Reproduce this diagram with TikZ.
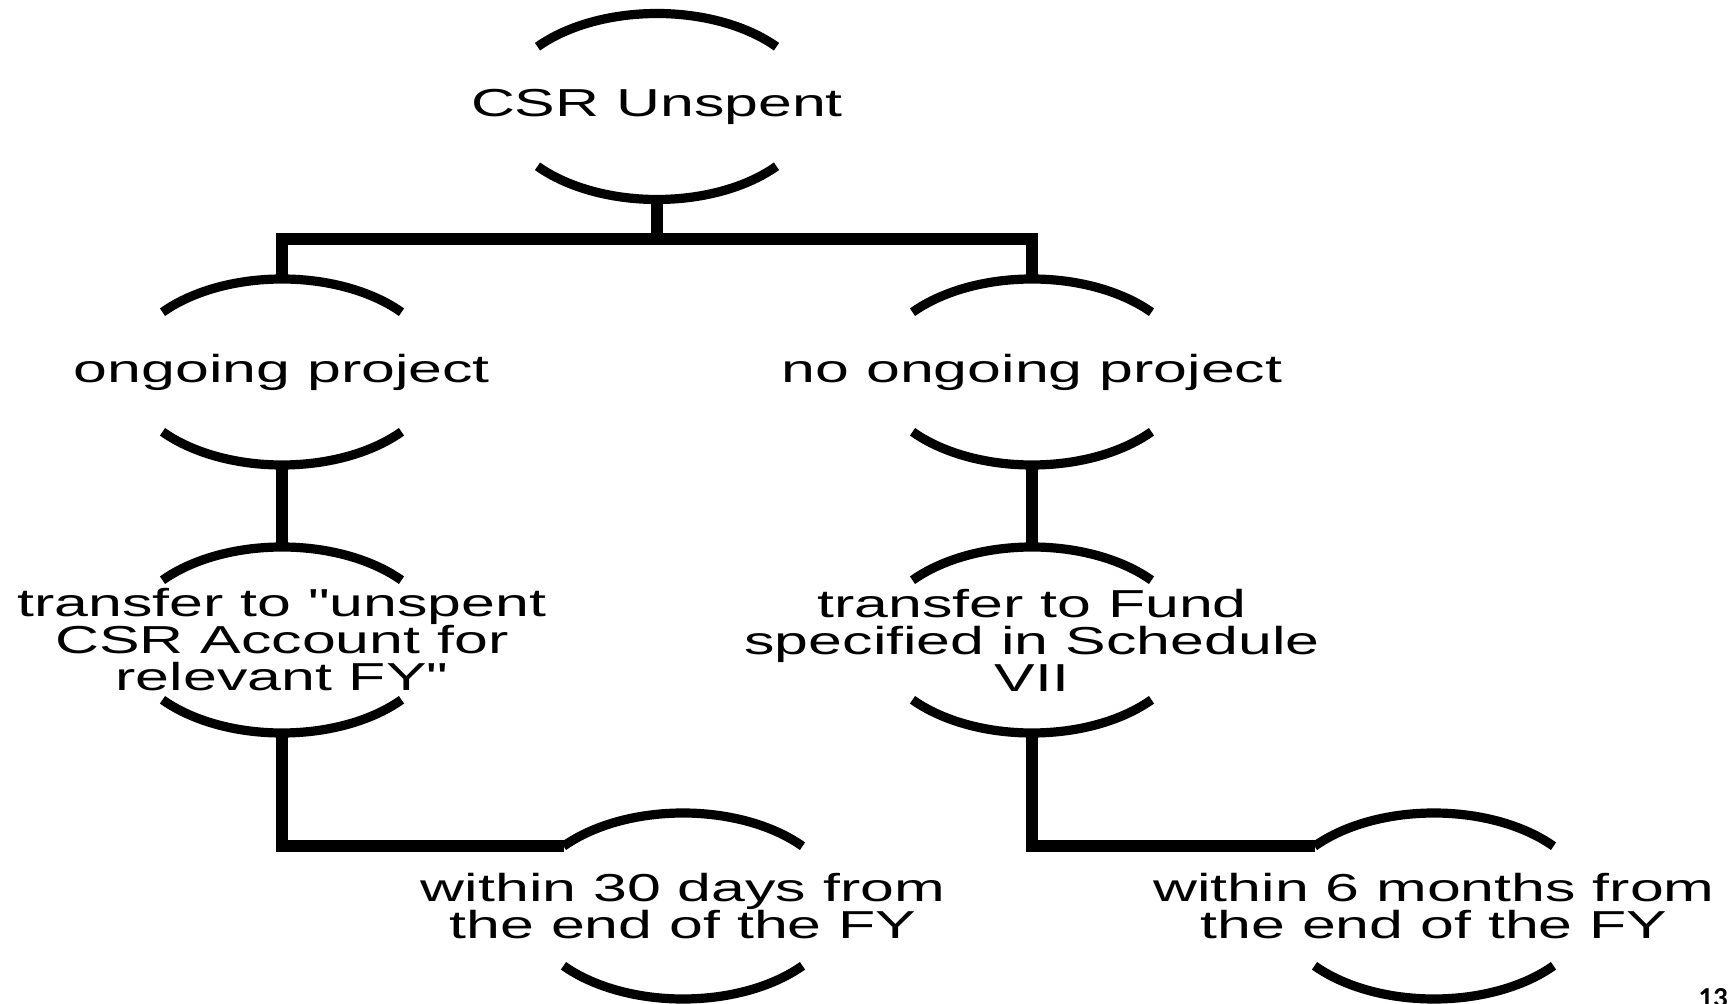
\documentclass[tikz,border=0pt]{standalone}
\usepackage{fontspec}
\usetikzlibrary{shapes.geometric,calc}
\newfontfamily\widesans[FakeStretch=1.56]{Liberation Sans}
\newfontfamily\pgnumfont{Carlito}
\tikzset{
  ring/.style={ellipse, minimum width=156pt, minimum height=93pt, inner sep=0pt, outer sep=0pt},
  txt/.style={font=\widesans\fontsize{19.5pt}{18.5pt}\selectfont, align=center, inner sep=0pt},
  arcline/.style={line width=4.6pt, line cap=butt},
  conn/.style={line width=6pt, line join=miter},
}
\newcommand\ringnode[4]{%
  \node[ring] (#1) at (#2,#3) {};
  \node[txt] (#1-t) at (#1.center) {#4};
  \draw[arcline] ($(#1.center)+(40:78pt and 46.5pt)$) arc[start angle=40, end angle=140, x radius=78pt, y radius=46.5pt];
  \draw[arcline] ($(#1.center)+(220:78pt and 46.5pt)$) arc[start angle=220, end angle=320, x radius=78pt, y radius=46.5pt];
}
\begin{document}
\begin{tikzpicture}[x=0.5pt, y=0.5pt]
  \useasboundingbox (0,0) rectangle (1729,-1004);
  \ringnode{top}{657}{-106.5}{CSR Unspent}
  \ringnode{m1}{282}{-372}{ongoing project}
  \ringnode{m2}{1032}{-372}{no ongoing project}
  \ringnode{t1}{282}{-640}{transfer to "unspent\\CSR Account for\\relevant FY"}
  \ringnode{t2}{1032}{-640}{transfer to Fund\\specified in Schedule\\VII}
  \ringnode{b1}{683}{-906}{within 30 days from\\the end of the FY}
  \ringnode{b2}{1434}{-906}{within 6 months from\\the end of the FY}
  \coordinate (split) at (657,-239);
  \draw[conn] (top.south) -- (split);
  \draw[conn] (m1.north) |- (split) -| (m2.north);
  \draw[conn] (m1.south) -- (t1.north);
  \draw[conn] (m2.south) -- (t2.north);
  \draw[conn] (t1.south) |- ($(b1.center)+(140:78pt and 46.5pt)$);
  \draw[conn] (t2.south) |- ($(b2.center)+(140:78pt and 46.5pt)$);
  \node[anchor=base west, inner sep=0pt, font=\pgnumfont\bfseries\fontsize{14.5pt}{16pt}\selectfont] (pg) at (1698,-1007) {13};
\end{tikzpicture}
\end{document}
